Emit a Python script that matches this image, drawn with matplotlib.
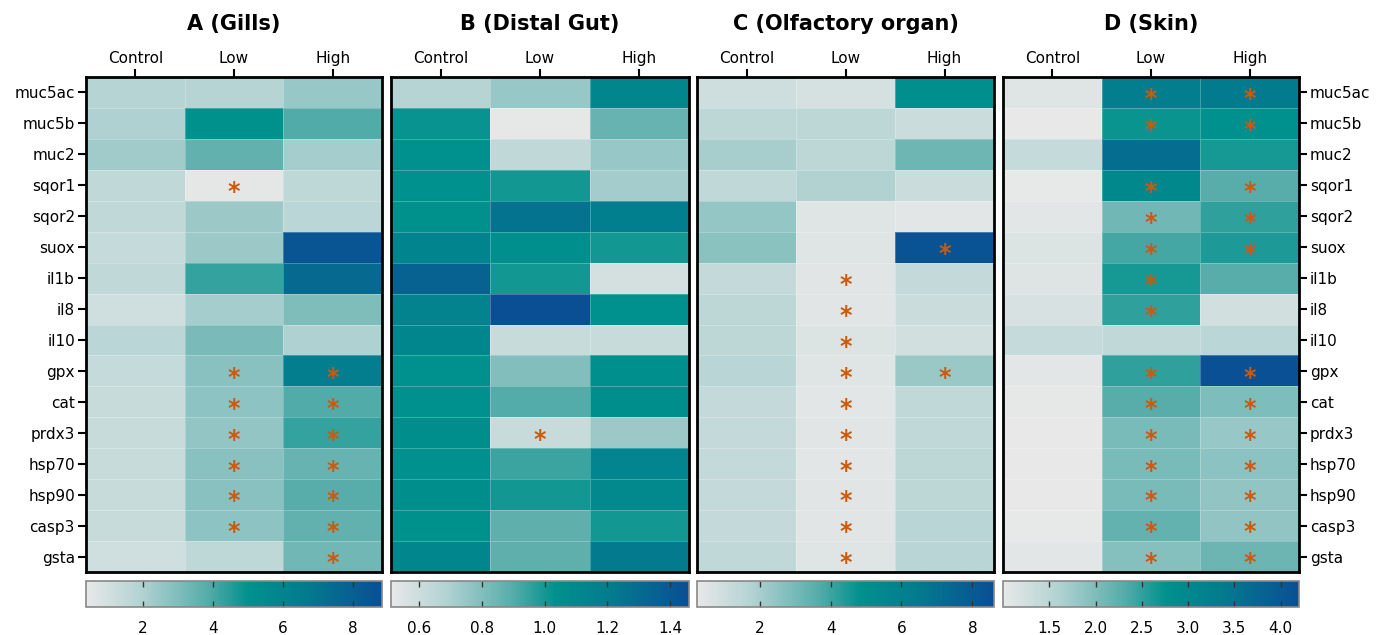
import numpy as np
import matplotlib
matplotlib.use("Agg")
import matplotlib.pyplot as plt
from matplotlib.colors import LinearSegmentedColormap, Normalize

genes = ["muc5ac", "muc5b", "muc2", "sqor1", "sqor2", "suox", "il1b", "il8", "il10",
         "gpx", "cat", "prdx3", "hsp70", "hsp90", "casp3", "gsta"]
groups = ["Control", "Low", "High"]
titles = ["A (Gills)", "B (Distal Gut)", "C (Olfactory organ)", "D (Skin)"]

# values: rows = genes, columns = Control, Low, High
gills = [
    [1.8, 1.8, 2.5], [2.0, 5.0, 3.9], [2.3, 3.6, 2.2], [1.5, 0.5, 1.6],
    [1.5, 2.4, 1.7], [1.4, 2.4, 8.5], [1.5, 4.3, 7.5], [1.1, 2.2, 3.0],
    [1.7, 3.1, 2.0], [1.4, 2.8, 6.4], [1.3, 2.7, 3.9], [1.3, 2.6, 4.3],
    [1.3, 2.8, 3.5], [1.3, 2.8, 3.8], [1.3, 2.7, 3.6], [1.1, 1.6, 3.3]]
gut = [
    [0.67, 0.75, 1.12], [1.02, 0.52, 0.86], [1.04, 0.64, 0.75], [1.04, 1.00, 0.72],
    [1.03, 1.26, 1.18], [1.14, 1.05, 1.00], [1.35, 1.00, 0.58], [1.15, 1.45, 1.04],
    [1.12, 0.62, 0.62], [1.04, 0.80, 1.05], [1.04, 0.90, 1.06], [1.06, 0.62, 0.74],
    [1.04, 0.94, 1.13], [1.06, 1.00, 1.10], [1.03, 0.88, 1.00], [1.12, 0.88, 1.22]]
olfactory = [
    [1.0, 0.8, 5.0], [1.5, 1.5, 1.1], [2.0, 1.5, 3.2], [1.4, 1.8, 1.1],
    [2.4, 0.5, 0.4], [2.6, 0.5, 8.4], [1.3, 0.45, 1.3], [1.5, 0.45, 1.1],
    [1.5, 0.6, 0.9], [1.6, 0.5, 2.3], [1.3, 0.4, 1.4], [1.3, 0.45, 1.4],
    [1.3, 0.4, 1.5], [1.3, 0.45, 1.5], [1.3, 0.45, 1.6], [1.4, 0.5, 1.6]]
skin = [
    [1.1, 3.3, 3.35], [1.0, 2.7, 2.8], [1.4, 3.6, 2.65], [1.02, 3.0, 2.3],
    [1.05, 2.1, 2.5], [1.15, 2.4, 2.6], [1.12, 2.65, 2.3], [1.2, 2.5, 1.25],
    [1.4, 1.45, 1.5], [1.06, 2.5, 4.15], [1.03, 2.3, 2.0], [1.0, 2.05, 1.8],
    [1.0, 2.05, 1.9], [1.0, 2.05, 1.85], [1.02, 2.2, 1.85], [1.07, 1.95, 2.15]]

# significance flags (1 = asterisk)
sig_gills = [[0,0,0],[0,0,0],[0,0,0],[0,1,0],[0,0,0],[0,0,0],[0,0,0],[0,0,0],
             [0,0,0],[0,1,1],[0,1,1],[0,1,1],[0,1,1],[0,1,1],[0,1,1],[0,0,1]]
sig_gut = [[0,0,0]]*11 + [[0,1,0]] + [[0,0,0]]*4
sig_olf = [[0,0,0],[0,0,0],[0,0,0],[0,0,0],[0,0,0],[0,0,1],[0,1,0],[0,1,0],
           [0,1,0],[0,1,1],[0,1,0],[0,1,0],[0,1,0],[0,1,0],[0,1,0],[0,1,0]]
sig_skin = [[0,1,1],[0,1,1],[0,0,0],[0,1,1],[0,1,1],[0,1,1],[0,1,0],[0,1,0],
            [0,0,0],[0,1,1],[0,1,1],[0,1,1],[0,1,1],[0,1,1],[0,1,1],[0,1,1]]

ranges = [(0.37, 8.83), (0.51, 1.46), (0.23, 8.61), (1.0, 4.2)]
cbar_ticks = [[2, 4, 6, 8], [0.6, 0.8, 1.0, 1.2, 1.4], [2, 4, 6, 8],
              [1.5, 2.0, 2.5, 3.0, 3.5, 4.0]]
cbar_fmt = ["{:.0f}", "{:.1f}", "{:.0f}", "{:.1f}"]

cmap = LinearSegmentedColormap.from_list("tealblue", [
    (0.00, "#e8e8e8"), (0.18, "#b4d3d3"), (0.40, "#5aaeab"),
    (0.55, "#00918d"), (0.75, "#037a8e"), (1.00, "#0a4e94")])

plt.rcParams["font.family"] = ["DejaVu Sans"]
fig = plt.figure(figsize=(13.78, 6.35), dpi=100)

lefts = [86, 391, 697, 1003]
rights = [382, 689, 994, 1299]
W, H = 1378.0, 635.0
top_px, bot_px = 77, 572
cb_top, cb_bot = 581, 607

datas = [gills, gut, olfactory, skin]
sigs = [sig_gills, sig_gut, sig_olf, sig_skin]

for i in range(4):
    l, r = lefts[i] / W, rights[i] / W
    ax = fig.add_axes([l, 1 - bot_px / H, r - l, (bot_px - top_px) / H])
    arr = np.array(datas[i], dtype=float)
    norm = Normalize(vmin=ranges[i][0], vmax=ranges[i][1])
    mesh = ax.pcolormesh(np.arange(4), np.arange(17), arr, cmap=cmap, norm=norm,
                         edgecolors=(1, 1, 1, 0.25), linewidth=0.6)
    ax.set_xlim(0, 3)
    ax.set_ylim(16, 0)
    s = np.array(sigs[i])
    for rr in range(16):
        for cc in range(3):
            if s[rr, cc]:
                ax.text(cc + 0.5, rr + 0.72, "*", ha="center", va="center",
                        fontsize=17, color="#cc5a0c", fontweight="bold")
    ax.xaxis.tick_top()
    ax.set_xticks(np.arange(3) + 0.5)
    ax.set_xticklabels(groups, fontsize=11)
    ax.tick_params(axis="x", length=6, width=1.5, pad=2)
    ax.set_yticks(np.arange(16) + 0.5)
    if i == 0:
        ax.set_yticklabels(genes, fontsize=11)
        ax.tick_params(axis="y", length=6, width=1.5, pad=2)
    elif i == 3:
        ax.yaxis.tick_right()
        ax.set_yticklabels(genes, fontsize=11)
        ax.tick_params(axis="y", length=6, width=1.5, pad=2)
    else:
        ax.set_yticks([])
    for sp in ax.spines.values():
        sp.set_linewidth(2)
        sp.set_color("black")
    fig.text((l + r) / 2, 1 - 24 / H, titles[i], ha="center", va="center",
             fontsize=15, fontweight="bold")

    cax = fig.add_axes([l, 1 - cb_bot / H, r - l, (cb_bot - cb_top) / H])
    cb = fig.colorbar(mesh, cax=cax, orientation="horizontal")
    cb.set_ticks(cbar_ticks[i])
    cb.set_ticklabels([cbar_fmt[i].format(t) for t in cbar_ticks[i]])
    cb.outline.set_edgecolor("#888888")
    cb.outline.set_linewidth(1.2)
    cax.tick_params(axis="x", direction="in", top=True, bottom=True, length=4,
                    width=1, color="#333333", labelsize=11, pad=10)

fig.savefig("out.png", dpi=100)
